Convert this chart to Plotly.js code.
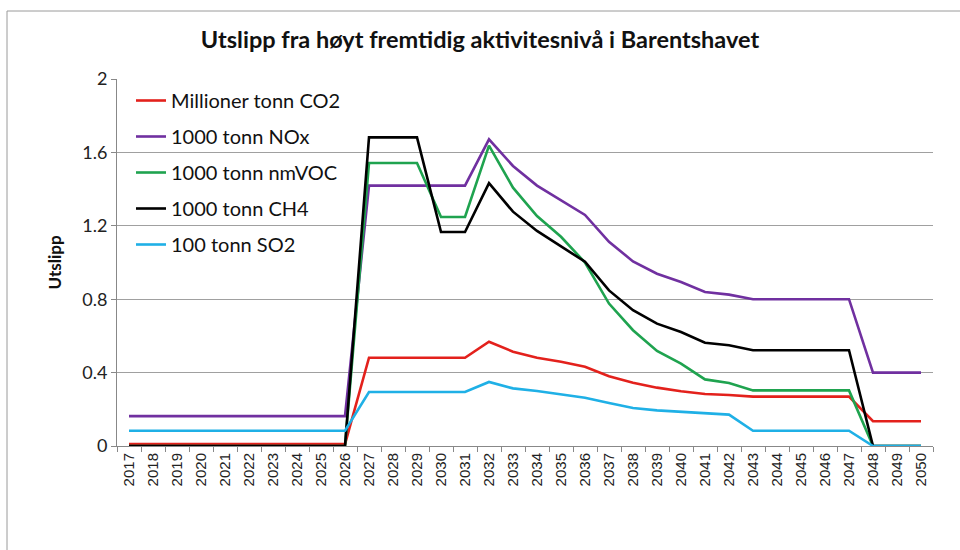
<!DOCTYPE html>
<html>
<head>
<meta charset="utf-8">
<script src="https://cdn.plot.ly/plotly-3.0.1.min.js"></script>
<style>
html,body{margin:0;padding:0;background:#fff;}
#chart{width:960px;height:550px;}
</style>
</head>
<body>
<div id="chart"></div>
<script>
const years = ["2017","2018","2019","2020","2021","2022","2023","2024","2025","2026",
  "2027","2028","2029","2030","2031","2032","2033","2034","2035","2036",
  "2037","2038","2039","2040","2041","2042","2043","2044","2045","2046",
  "2047","2048","2049","2050"];

const co2 = [0.01,0.01,0.01,0.01,0.01,0.01,0.01,0.01,0.01,0.01,
  0.481,0.481,0.481,0.481,0.481,
  0.568,0.514,0.481,0.459,0.432,0.38,0.345,0.318,0.298,0.283,0.278,
  0.269,0.269,0.269,0.269,0.269,
  0.135,0.135,0.135];

const nox = [0.163,0.163,0.163,0.163,0.163,0.163,0.163,0.163,0.163,0.163,
  1.419,1.419,1.419,1.419,1.419,
  1.671,1.526,1.419,1.34,1.259,1.113,1.006,0.939,0.894,0.839,0.825,
  0.8,0.8,0.8,0.8,0.8,
  0.4,0.4,0.4];

const nmvoc = [0,0,0,0,0,0,0,0,0,0,
  1.542,1.542,1.542,1.248,1.248,
  1.637,1.408,1.253,1.14,1.0,0.776,0.631,0.518,0.449,0.363,0.343,
  0.303,0.303,0.303,0.303,0.303,
  0,0,0];

const ch4 = [0,0,0,0,0,0,0,0,0,0,
  1.682,1.682,1.682,1.166,1.166,
  1.432,1.277,1.172,1.086,1.004,0.848,0.74,0.667,0.621,0.563,0.549,
  0.522,0.522,0.522,0.522,0.522,
  0,0,0];

const so2 = [0.083,0.083,0.083,0.083,0.083,0.083,0.083,0.083,0.083,0.083,
  0.294,0.294,0.294,0.294,0.294,
  0.349,0.314,0.3,0.282,0.263,0.234,0.207,0.194,0.187,0.176,0.171,
  0.083,0.083,0.083,0.083,0.083,
  0,0,0];

const seriesNames = ["Millioner tonn CO2","1000 tonn NOx","1000 tonn nmVOC","1000 tonn CH4","100 tonn SO2"];
const seriesValues = [co2, nox, nmvoc, ch4, so2];
const seriesColors = ["#e3211c","#7030a0","#1fa34f","#000000","#1fb0e6"];

const traces = seriesValues.map((v,i)=>({
  x: years, y: v, type:'scatter', mode:'lines',
  name: seriesNames[i], legendgroup: 'g'+i,
  line:{color: seriesColors[i], width:2.6},
  hoverinfo:'skip'
}));

const L=117, R=27, T=79, B=104;
const pw = 960-L-R, ph = 550-T-B;

const layout = {
  width:960, height:550,
  margin:{l:L, r:R, t:T, b:B, pad:0},
  paper_bgcolor:'#fff', plot_bgcolor:'#fff',
  font:{family:'Lato, "Open Sans", sans-serif', color:'#222'},
  title:{text:'<b>Utslipp fra høyt fremtidig aktivitesnivå i Barentshavet</b>',
    font:{family:'Lato, sans-serif', size:23.5, color:'#111'},
    x:0.5, xref:'container', y:1-40/550, yref:'container', yanchor:'middle'},
  showlegend:true,
  legend:{x:14/pw, y:1-2/ph, xanchor:'left', yanchor:'top',
    bgcolor:'rgba(0,0,0,0)', borderwidth:0,
    font:{family:'Lato, sans-serif', size:20, color:'#111'},
    traceorder:'grouped', tracegroupgap:7, itemwidth:30},
  xaxis:{type:'category', range:[-0.5,33.5], tickangle:-90,
    ticks:'outside', ticklen:5, tickcolor:'#888', tickson:'boundaries',
    showline:true, linecolor:'#888', linewidth:1, showgrid:false,
    tickfont:{family:'"Liberation Sans", Arial, sans-serif', size:15, color:'#222'},
    fixedrange:true, zeroline:false},
  yaxis:{range:[0,2], dtick:0.4, tick0:0, ticks:'outside', ticklen:5, tickcolor:'#888',
    showline:true, linecolor:'#888', linewidth:1,
    showgrid:true, gridcolor:'#a0a0a0', gridwidth:1, zeroline:false,
    tickfont:{family:'Lato, sans-serif', size:18, color:'#222'},
    title:{text:'<b>Utslipp</b>', font:{family:'Lato, sans-serif', size:17, color:'#111'}, standoff:16},
    fixedrange:true},
  shapes:[{type:'rect', xref:'paper', yref:'paper',
    x0:(7-L)/pw, x1:(965-L)/pw, y0:(446-556)/ph, y1:1+(T-11)/ph,
    line:{color:'#9a9a9a', width:1}, fillcolor:'rgba(0,0,0,0)', layer:'below'}]
};

Plotly.newPlot('chart', traces, layout, {displayModeBar:false, staticPlot:true});
</script>
</body>
</html>
